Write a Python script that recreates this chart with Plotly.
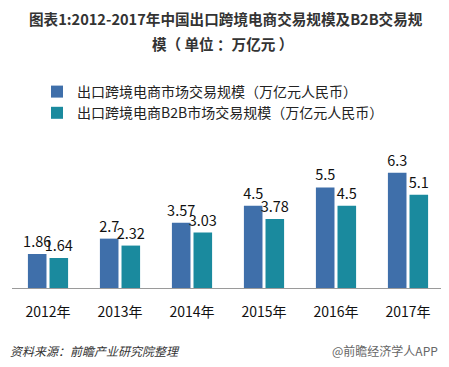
import plotly.graph_objects as go

years = ["2012年", "2013年", "2014年", "2015年", "2016年", "2017年"]
export_total = [1.86, 2.7, 3.57, 4.5, 5.5, 6.3]
export_b2b = [1.64, 2.32, 3.03, 3.78, 4.5, 5.1]
name_total = "出口跨境电商市场交易规模（万亿元人民币）"
name_b2b = "出口跨境电商B2B市场交易规模（万亿元人民币）"

FONT = "Noto Sans CJK SC, Noto Sans, sans-serif"
# the page body adds an 8px offset; lay out in window pixels and shift back
OFF = 8
W, H = 449, 367
ML, MR, MT, MB = 12 - OFF, 5 + OFF, 160 - OFF, 79 + OFF
PW, PH = W - ML - MR, H - MT - MB


def px(x):
    return (x - OFF - ML) / PW


def py(y):
    return (H - (y - OFF) - MB) / PH


fig = go.Figure()
fig.add_trace(go.Bar(
    x=years, y=export_total, name=name_total,
    marker=dict(color="#3F6FAA", line=dict(width=0)),
    text=[f"{v:g}" for v in export_total], textposition="outside",
    textfont=dict(size=14.5, color="#111", family=FONT),
    constraintext="none", cliponaxis=False,
))
fig.add_trace(go.Bar(
    x=years, y=export_b2b, name=name_b2b,
    marker=dict(color="#1A8A9E", line=dict(width=0)),
    text=[f"{v:g}" for v in export_b2b], textposition="outside",
    textfont=dict(size=14.5, color="#111", family=FONT),
    constraintext="none", cliponaxis=False,
))

fig.update_layout(
    width=W, height=H,
    margin=dict(l=ML, r=MR, t=MT, b=MB, autoexpand=False),
    paper_bgcolor="white", plot_bgcolor="white",
    font=dict(family=FONT, color="#222"),
    barmode="group", bargap=0.40, bargroupgap=0.14,
    showlegend=True,
    legend=dict(
        x=px(37), y=py(76),
        xanchor="left", yanchor="top",
        font=dict(size=14, color="#222", family=FONT),
        bgcolor="rgba(0,0,0,0)", tracegroupgap=0, itemwidth=30,
    ),
    xaxis=dict(
        showline=True, linecolor="#9a9a9a", linewidth=1,
        ticks="", showgrid=False, zeroline=False,
        tickfont=dict(size=14, color="#111", family=FONT),
        ticklabelstandoff=11,
    ),
    yaxis=dict(range=[0, 7], visible=False, showgrid=False, zeroline=False),
    annotations=[
        dict(text="<b>图表1:2012-2017年中国出口跨境电商交易规模及B2B交易规</b>",
             x=px(226), y=py(18), xref="paper", yref="paper", showarrow=False,
             xanchor="center", yanchor="middle",
             font=dict(size=14.6, color="#333", family=FONT)),
        dict(text="<b>模（ 单位 ：万亿元 ）</b>",
             x=px(222), y=py(43), xref="paper", yref="paper", showarrow=False,
             xanchor="center", yanchor="middle",
             font=dict(size=14.6, color="#333", family=FONT)),
        dict(text="<i>资料来源：前瞻产业研究院整理</i>",
             x=px(8), y=py(350), xref="paper", yref="paper", showarrow=False,
             xanchor="left", yanchor="middle",
             font=dict(size=12, color="#333", family=FONT)),
        dict(text="@前瞻经济学人APP",
             x=px(440), y=py(350), xref="paper", yref="paper", showarrow=False,
             xanchor="right", yanchor="middle",
             font=dict(size=12, color="#666", family=FONT)),
    ],
)

fig.write_html("out.html")
